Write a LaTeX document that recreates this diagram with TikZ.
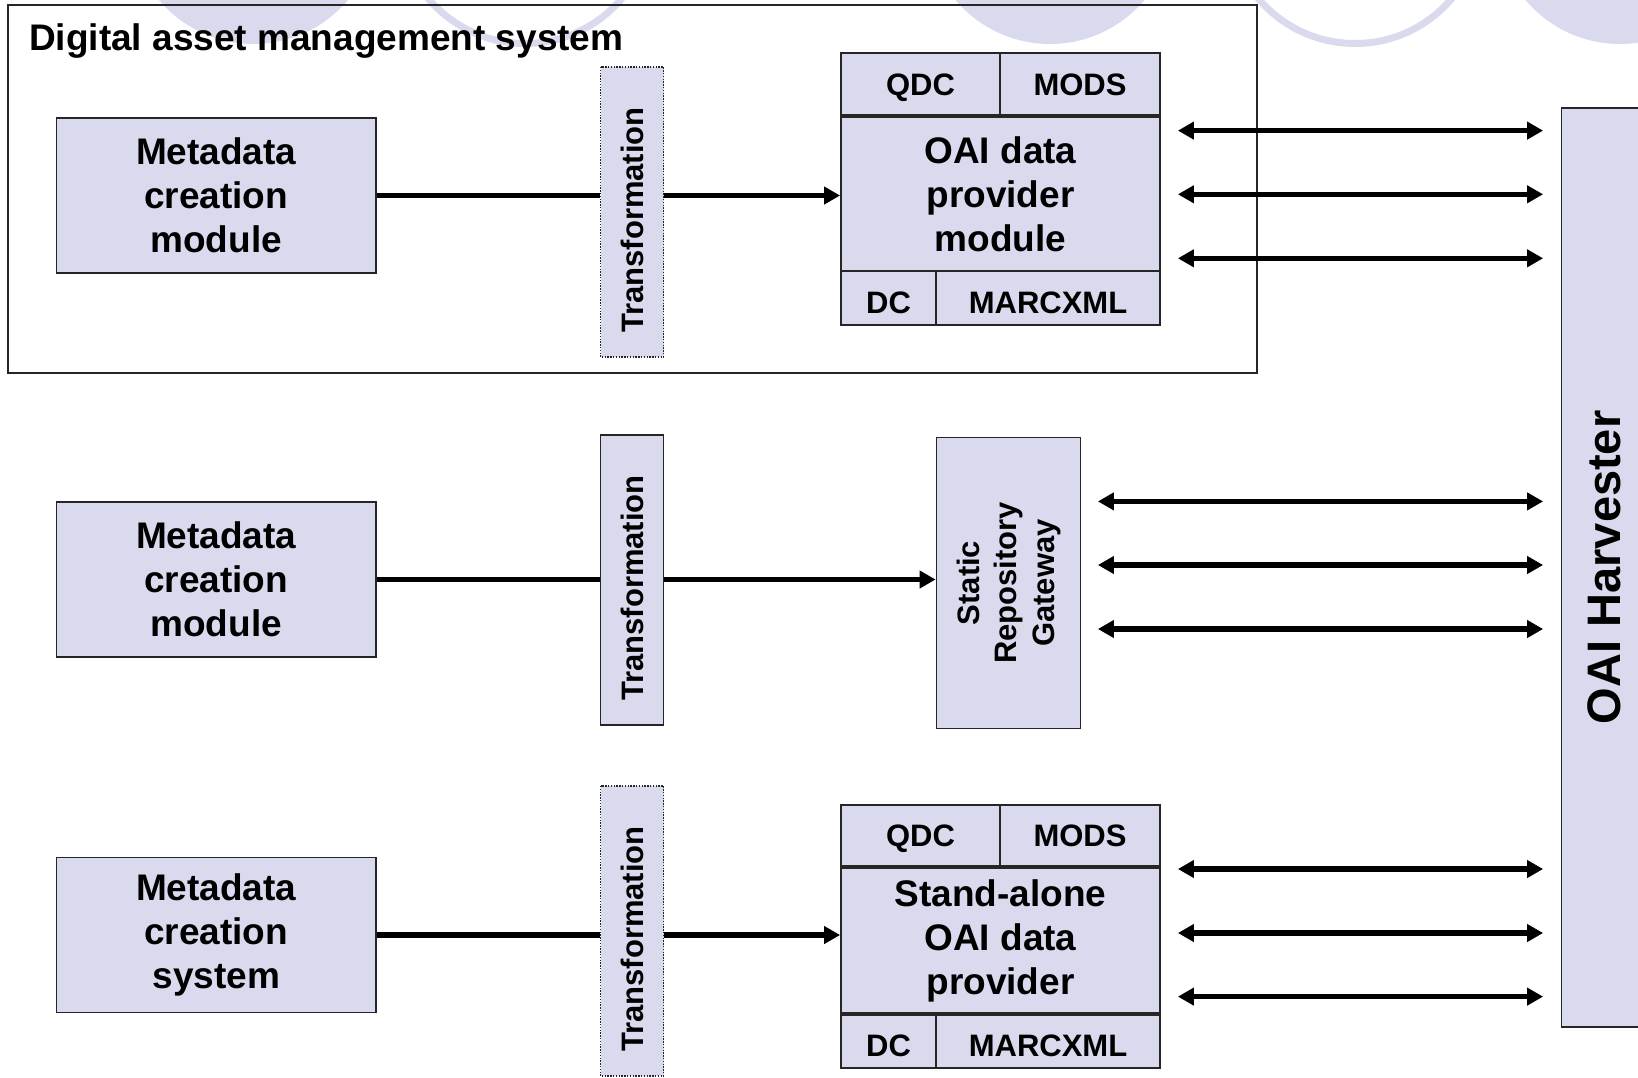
\documentclass[tikz,border=0pt]{standalone}
\usepackage{fontspec}
\setmainfont{Liberation Sans}
\usetikzlibrary{arrows.meta}
\definecolor{lav}{RGB}{218,218,238}
\begin{document}
\begin{tikzpicture}[x=1pt,y=-1pt,
  box/.style={draw=black!85, line width=1.8pt, fill=lav, inner sep=0pt, align=center,
    font=\bfseries\fontsize{37}{44}\selectfont},
  small/.style={box, font=\bfseries\fontsize{31}{37.5}\selectfont},
  lbl/.style={small, text height=22.3pt, text depth=0pt},
  lowlbl/.style={small, text height=30pt, text depth=0pt},
  tbox/.style={lbl, rotate=90, minimum width=290pt, minimum height=63pt},
  dotb/.style={dash pattern=on 1.4pt off 1.4pt, line width=1.6pt},
  flow/.style={line width=5.2pt},
  conn/.style={flow, -{Triangle[length=16pt,width=17pt]}},
  dbl/.style={flow, {Triangle[length=16pt,width=17pt]}-{Triangle[length=16pt,width=17pt]}},
  ring/.style={draw=lav, line width=7pt},
  disc/.style={fill=lav}
]
\useasboundingbox (0,0) rectangle (1638,1077);
\clip (0,0) rectangle (1638,1077);

% background circles
\fill[disc] (253.5,-79.5) circle (123.5);
\draw[ring] (525,-83) circle (126.5);
\fill[disc] (1050,-79.5) circle (123.5);
\draw[ring] (1355,-83) circle (126.5);
\fill[disc] (1620,-79.5) circle (123.5);

% digital asset management frame
\node[draw=black!85, line width=1.8pt, minimum width=1248.3pt, minimum height=367.8pt, inner sep=0pt] (dam) at (632.5,189.1) {};
\node[anchor=base west, inner sep=0pt, font=\bfseries\fontsize{37}{44}\selectfont] (title) at (29,50) {Digital asset management system};

% metadata creation boxes
\node[box, minimum width=319.6pt, minimum height=155pt] (m1) at (216.2,195.5) {Metadata\\creation\\module};
\node[box, minimum width=319.6pt, minimum height=155pt] (m2) at (216.2,579.5) {Metadata\\creation\\module};
\node[box, minimum width=319.6pt, minimum height=155pt] (m3) at (216.2,935) {Metadata\\creation\\system};

% transformation boxes (rotated: north = left side, south = right side)
\node[tbox, dotb] (t1) at (632,212) {\hspace*{-16pt}Transformation};
\node[tbox] (t2) at (632,580) {\hspace*{-16pt}Transformation};
\node[tbox, dotb] (t3) at (632,931) {\hspace*{-16pt}Transformation};

% OAI data provider module (top)
\node[lbl, minimum width=159pt, minimum height=62pt] (q1) at (920.5,84) {QDC};
\node[lbl, minimum width=160pt, minimum height=62pt] (mo1) at (1080,84) {MODS};
\node[box, minimum width=319pt, minimum height=154pt] (p1) at (1000.5,194) {OAI data\\provider\\module};
\node[lowlbl, minimum width=95pt, minimum height=54pt] (dc1) at (888.5,298) {DC};
\node[lowlbl, minimum width=224pt, minimum height=54pt] (mx1) at (1048,298) {MARCXML};

% static repository gateway
\node[small, rotate=90, minimum width=291pt, minimum height=144pt] (g) at (1008.5,583) {Static\\Repository\\Gateway};

% stand-alone provider (bottom)
\node[lbl, minimum width=159pt, minimum height=61pt] (q3) at (920.5,835.5) {QDC};
\node[lbl, minimum width=160pt, minimum height=61pt] (mo3) at (1080,835.5) {MODS};
\node[box, minimum width=319pt, minimum height=145pt] (p3) at (1000.5,940.5) {Stand-alone\\OAI data\\provider};
\node[lowlbl, minimum width=95pt, minimum height=53pt] (dc3) at (888.5,1041.5) {DC};
\node[lowlbl, minimum width=224pt, minimum height=53pt] (mx3) at (1048,1041.5) {MARCXML};

% harvester
\node[box, rotate=90, minimum width=919.4pt, minimum height=83pt, text height=34pt, text depth=0pt, font=\bfseries\fontsize{47}{56}\selectfont] (h) at (1603,567.3) {OAI Harvester};

% flows
\draw[flow] (m1.east) -- (t1.north |- m1.east);
\draw[conn] (t1.south |- m1.east) -- (p1.west |- m1.east);
\draw[flow] (m2.east) -- (t2.north |- m2.east);
\draw[conn] (t2.south |- m2.east) -- (g.north |- m2.east);
\draw[flow] (m3.east) -- (t3.north |- m3.east);
\draw[conn] (t3.south |- m3.east) -- (p3.west |- m3.east);

% harvesting arrows
\coordinate (a1) at (0,130.6);
\coordinate (a2) at (0,194.3);
\coordinate (a3) at (0,258.3);
\coordinate (b1) at (0,501.4);
\coordinate (b2) at (0,565);
\coordinate (b3) at (0,629);
\coordinate (c1) at (0,869);
\coordinate (c2) at (0,933);
\coordinate (c3) at (0,996.6);
\foreach \y in {a1,a2,a3}
  \draw[dbl, shorten <=17pt, shorten >=17.5pt] (p1.east |- \y) -- (h.north |- \y);
\foreach \y in {b1,b2,b3}
  \draw[dbl, shorten <=16.5pt, shorten >=17.5pt] (g.south |- \y) -- (h.north |- \y);
\foreach \y in {c1,c2,c3}
  \draw[dbl, shorten <=17pt, shorten >=17.5pt] (p3.east |- \y) -- (h.north |- \y);
\end{tikzpicture}
\end{document}
